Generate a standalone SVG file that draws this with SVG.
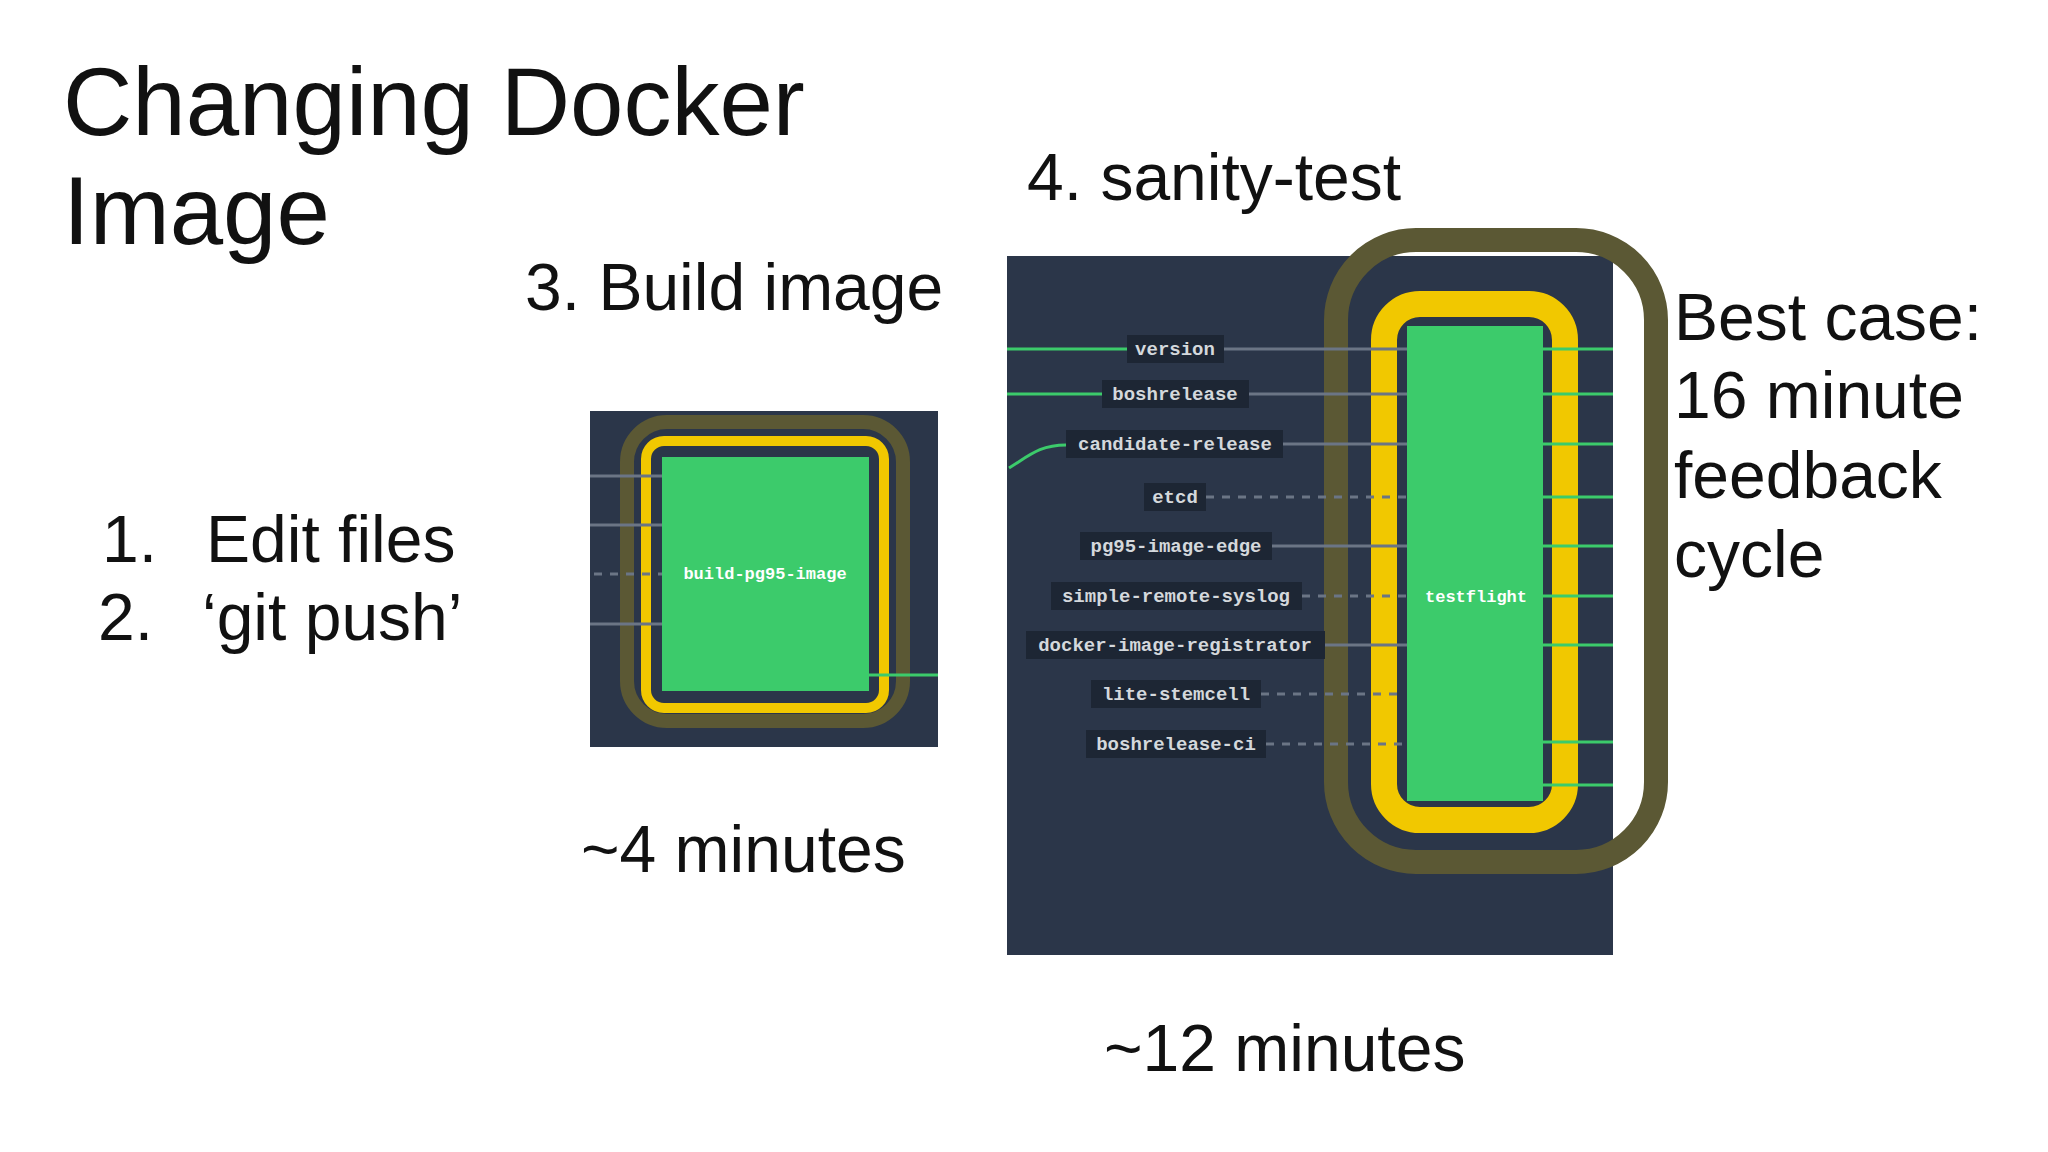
<svg xmlns="http://www.w3.org/2000/svg" width="2048" height="1152" viewBox="0 0 2048 1152">
<style>
.t{font-family:"Liberation Sans",Arial,sans-serif;fill:#111;font-size:66px}
.panel{fill:#2b3649}
.olive{fill:none;stroke:#5b5834}
.yel{fill:none;stroke:#f1c800}
.grn{fill:#3ccb6b}
.lb{fill:#1d2634}
.lt{font-family:"Liberation Mono","Courier New",monospace;font-weight:bold;font-size:19px;fill:#d4d8dc;text-anchor:middle}
.nt{font-family:"Liberation Mono","Courier New",monospace;font-weight:bold;font-size:19px;fill:#ffffff;text-anchor:middle}
.g{stroke:#6b7585;stroke-width:3;fill:none}
.d{stroke:#6b7585;stroke-width:3;fill:none;stroke-dasharray:8 8}
.gl{stroke:#3ccb6b;stroke-width:3;fill:none}
</style>
<rect width="2048" height="1152" fill="#fff"/>
<text class="t" x="63" y="135" style="font-size:96px">Changing Docker</text>
<text class="t" x="63" y="244" style="font-size:96px">Image</text>
<text class="t" x="525" y="310">3. Build image</text>
<text class="t" x="1027" y="200">4. sanity-test</text>
<text class="t" x="1674" y="340">Best case:</text>
<text class="t" x="1674" y="418">16 minute</text>
<text class="t" x="1674" y="498">feedback</text>
<text class="t" x="1674" y="577">cycle</text>
<text class="t" x="102" y="562">1.</text><text class="t" x="206" y="562">Edit files</text>
<text class="t" x="98" y="640">2.</text><text class="t" x="202" y="640">‘git push’</text>
<text class="t" x="581" y="872">~4 minutes</text>
<text class="t" x="1104" y="1071">~12 minutes</text>

<g id="build-panel">
<rect class="panel" x="590" y="411" width="348" height="336"/>
<rect class="olive" x="627" y="422" width="276" height="299" rx="40" stroke-width="14" stroke="#454a3a"/>
<rect class="yel" x="646" y="441" width="238" height="267" rx="18" stroke-width="10"/>
</g>
<g id="testflight-panel">
<rect class="panel" x="1007" y="256" width="606" height="699"/>
<rect class="olive" x="1336" y="240" width="320" height="622" rx="80" stroke-width="24"/>
<rect class="yel" x="1384" y="304" width="181" height="516" rx="36" stroke-width="26"/>
</g>
<g id="connectors">
<line class="g" x1="590" y1="476" x2="662" y2="476"/>
<line class="g" x1="590" y1="525" x2="662" y2="525"/>
<line class="d" x1="594" y1="574" x2="662" y2="574"/>
<line class="g" x1="590" y1="624" x2="662" y2="624"/>
<line class="gl" x1="869" y1="675" x2="938" y2="675"/>
<line class="gl" x1="1007" y1="349" x2="1127" y2="349"/>
<line class="gl" x1="1007" y1="394" x2="1102" y2="394"/>
<path class="gl" d="M1009 468 C1030 455 1040 445 1066 445"/>
<line class="g" x1="1224" y1="349" x2="1407" y2="349"/>
<line class="g" x1="1249" y1="394" x2="1407" y2="394"/>
<line class="g" x1="1283" y1="444" x2="1407" y2="444"/>
<line class="d" x1="1206" y1="497" x2="1407" y2="497"/>
<line class="g" x1="1272" y1="546" x2="1407" y2="546"/>
<line class="d" x1="1302" y1="596" x2="1407" y2="596"/>
<line class="g" x1="1325" y1="645" x2="1407" y2="645"/>
<line class="d" x1="1261" y1="694" x2="1400" y2="694"/>
<line class="d" x1="1266" y1="744" x2="1407" y2="744"/>
<line class="gl" x1="1543" y1="349" x2="1613" y2="349"/>
<line class="gl" x1="1543" y1="394" x2="1613" y2="394"/>
<line class="gl" x1="1543" y1="444" x2="1613" y2="444"/>
<line class="gl" x1="1543" y1="497" x2="1613" y2="497"/>
<line class="gl" x1="1543" y1="546" x2="1613" y2="546"/>
<line class="gl" x1="1543" y1="596" x2="1613" y2="596"/>
<line class="gl" x1="1543" y1="645" x2="1613" y2="645"/>
<line class="gl" x1="1543" y1="742" x2="1613" y2="742"/>
<line class="gl" x1="1543" y1="785" x2="1613" y2="785"/>
</g>
<g id="build-pg95-image">
<rect class="grn" x="662" y="457" width="207" height="234"/>
<text class="nt" x="765" y="579" style="font-size:17px">build-pg95-image</text>
</g>
<g id="testflight">
<rect class="grn" x="1407" y="326" width="136" height="475"/>
<text class="nt" x="1476" y="602" style="font-size:17px">testflight</text>
</g>
<g id="version"><rect class="lb" x="1127" y="335" width="97" height="28"/><text class="lt" x="1175" y="355">version</text></g>
<g id="boshrelease"><rect class="lb" x="1102" y="380" width="147" height="28"/><text class="lt" x="1175" y="400">boshrelease</text></g>
<g id="candidate-release"><rect class="lb" x="1066" y="430" width="217" height="28"/><text class="lt" x="1175" y="450">candidate-release</text></g>
<g id="etcd"><rect class="lb" x="1144" y="483" width="62" height="28"/><text class="lt" x="1175" y="503">etcd</text></g>
<g id="pg95-image-edge"><rect class="lb" x="1080" y="532" width="192" height="28"/><text class="lt" x="1176" y="552">pg95-image-edge</text></g>
<g id="simple-remote-syslog"><rect class="lb" x="1051" y="582" width="251" height="28"/><text class="lt" x="1176" y="602">simple-remote-syslog</text></g>
<g id="docker-image-registrator"><rect class="lb" x="1026" y="631" width="299" height="28"/><text class="lt" x="1175" y="651">docker-image-registrator</text></g>
<g id="lite-stemcell"><rect class="lb" x="1091" y="680" width="170" height="28"/><text class="lt" x="1176" y="700">lite-stemcell</text></g>
<g id="boshrelease-ci"><rect class="lb" x="1086" y="730" width="180" height="28"/><text class="lt" x="1176" y="750">boshrelease-ci</text></g>
</svg>
